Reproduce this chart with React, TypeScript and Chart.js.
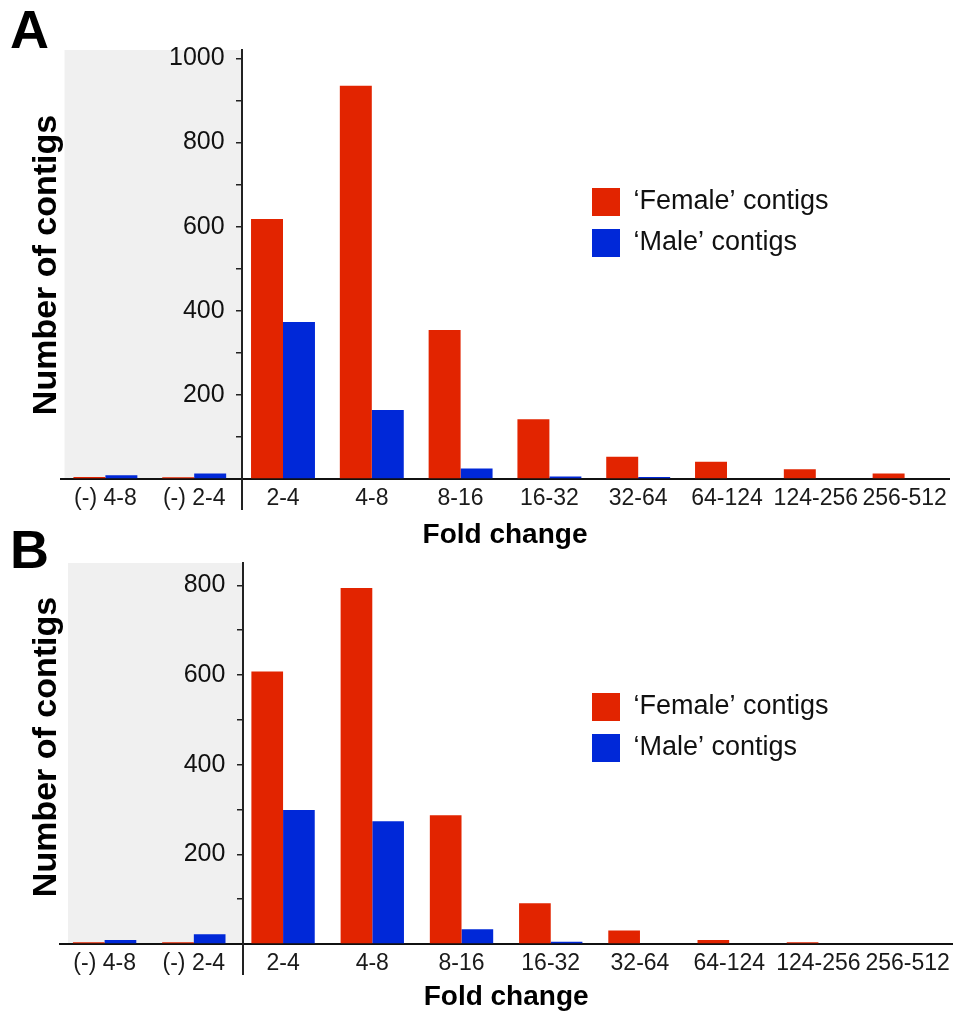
import React, { useEffect, useRef } from 'react';
import { Chart, registerables } from 'chart.js';

Chart.register(...registerables);

// ---------- data ----------
const categories = ['(-) 4-8', '(-) 2-4', '2-4', '4-8', '8-16', '16-32', '32-64', '64-124', '124-256', '256-512'];
const seriesNames = ['\u2018Female\u2019 contigs', '\u2018Male\u2019 contigs'];
const femaleA = [5, 4, 618, 935, 354, 142, 53, 41, 23, 13];
const maleA = [9, 13, 373, 164, 25, 6, 5, 0, 0, 0];
const femaleB = [4, 4, 608, 794, 287, 91, 30, 9, 4, 0];
const maleB = [9, 22, 299, 274, 33, 5, 0, 0, 0, 0];
const yTicksA = [0, 100, 200, 300, 400, 500, 600, 700, 800, 900, 1000];
const yTicksB = [0, 100, 200, 300, 400, 500, 600, 700, 800];
const labeledTicksA = [200, 400, 600, 800, 1000];
const labeledTicksB = [200, 400, 600, 800];
const xTitle = 'Fold change';
const yTitle = 'Number of contigs';

const RED = '#e22400';
const BLUE = '#0028d8';
const SANS = '"Liberation Sans", Arial, Helvetica, sans-serif';

const panelPlugin = {
  id: 'panelDecor',
  beforeDraw(chart: any, _a: any, o: any) {
    const { ctx, chartArea, scales } = chart;
    const ax = scales.x.getPixelForValue(o.axisAt);
    const gx = scales.x.getPixelForValue(o.grayFrom);
    ctx.save();
    ctx.fillStyle = '#f0f0f0';
    ctx.fillRect(gx, chartArea.top, ax - gx, chartArea.bottom - chartArea.top);
    ctx.restore();
  },
  afterLayout(chart: any, _a: any, o: any) {
    const lg = chart.legend;
    if (!lg) return;
    const w = lg.width;
    const h = lg.height;
    lg.left = o.legendX - 13;
    lg.top = o.legendY - 13;
    lg.right = lg.left + w;
    lg.bottom = lg.top + h;
  },
  afterDraw(chart: any, _a: any, o: any) {
    const { ctx, chartArea, scales } = chart;
    const ax = Math.round(scales.x.getPixelForValue(o.axisAt));
    ctx.save();
    ctx.strokeStyle = '#222';
    ctx.lineWidth = 2;
    ctx.beginPath();
    ctx.moveTo(ax, chartArea.bottom);
    ctx.lineTo(ax, chartArea.bottom + o.axisExtend);
    ctx.stroke();

    ctx.fillStyle = '#000';
    ctx.font = 'bold 54px ' + SANS;
    ctx.textAlign = 'left';
    ctx.textBaseline = 'alphabetic';
    ctx.fillText(o.letter, o.letterX, o.letterY);

    ctx.translate(o.yTitleX, o.yTitleY);
    ctx.rotate(-Math.PI / 2);
    ctx.font = 'bold 34px ' + SANS;
    ctx.textAlign = 'center';
    ctx.textBaseline = 'middle';
    ctx.fillStyle = '#000';
    ctx.fillText(yTitle, 0, 0);
    ctx.restore();
  },
};

type PanelCfg = {
  letter: string;
  female: number[];
  male: number[];
  yTicks: number[];
  labeled: number[];
  yMax: number;
  top: number;
  height: number;
  padTop: number;
  padLeft: number;
  padRight: number;
  xAxisHeight: number;
  axisAt: number;
  grayFrom: number;
  legendX: number;
  legendY: number;
  axisExtend: number;
  letterX: number;
  letterY: number;
  yTitleX: number;
  yTitleY: number;
  catPct: number;
};

const panelA: PanelCfg = {
  letter: 'A', female: femaleA, male: maleA, yTicks: yTicksA, labeled: labeledTicksA, yMax: 1020,
  top: 0, height: 552, padTop: 50, padLeft: 61, padRight: 7, xAxisHeight: 73,
  axisAt: 1.54, grayFrom: -0.46, legendX: 592, legendY: 188, axisExtend: 31,
  letterX: 10, letterY: 48, yTitleX: 47, yTitleY: 265, catPct: 0.72,
};

const panelB: PanelCfg = {
  letter: 'B', female: femaleB, male: maleB, yTicks: yTicksB, labeled: labeledTicksB, yMax: 850,
  top: 515, height: 499, padTop: 48, padLeft: 60, padRight: 3, xAxisHeight: 70,
  axisAt: 1.55, grayFrom: -0.41, legendX: 592, legendY: 178, axisExtend: 31,
  letterX: 10, letterY: 53, yTitleX: 47, yTitleY: 232, catPct: 0.71,
};

function Panel({ cfg }: { cfg: PanelCfg }) {
  const ref = useRef<HTMLCanvasElement>(null);
  useEffect(() => {
    const chart = new Chart(ref.current as HTMLCanvasElement, {
      type: 'bar',
      data: {
        labels: categories,
        datasets: [
          { label: seriesNames[0], data: cfg.female, backgroundColor: RED, borderWidth: 0, categoryPercentage: cfg.catPct, barPercentage: 1 },
          { label: seriesNames[1], data: cfg.male, backgroundColor: BLUE, borderWidth: 0, categoryPercentage: cfg.catPct, barPercentage: 1 },
        ],
      },
      plugins: [panelPlugin as any],
      options: {
        animation: false,
        responsive: false,
        devicePixelRatio: 1,
        events: [],
        layout: { padding: { top: cfg.padTop, left: cfg.padLeft, right: cfg.padRight, bottom: 0 } },
        scales: {
          x: {
            type: 'category',
            position: 'bottom',
            grid: { display: false, drawTicks: false },
            border: { display: true, color: '#111', width: 2 },
            ticks: {
              autoSkip: false, maxRotation: 0, minRotation: 0, padding: 6, color: '#1a1a1a',
              font: { family: SANS, size: 23 },
            },
            title: {
              display: true, text: xTitle, color: '#000',
              font: { family: SANS, size: 28, weight: 'bold' },
              padding: { top: 0, bottom: 0 },
            },
            afterFit: (s: any) => { s.height = cfg.xAxisHeight; },
          },
          y: {
            type: 'linear',
            min: 0,
            max: cfg.yMax,
            position: { x: cfg.axisAt } as any,
            afterBuildTicks: (s: any) => { s.ticks = cfg.yTicks.map((v) => ({ value: v })); },
            ticks: {
              autoSkip: false, padding: 11, color: '#111',
              font: { family: SANS, size: 25 },
              callback: (v: any) => (cfg.labeled.includes(Number(v)) ? String(v) + '\u2002\u2009' : ''),
            },
            grid: { drawOnChartArea: false, drawTicks: true, tickLength: 5, color: '#222', lineWidth: 1.5 },
            border: { display: true, color: '#222', width: 2 },
          },
        },
        plugins: {
          tooltip: { enabled: false },
          legend: {
            display: true,
            position: 'chartArea' as any,
            align: 'start',
            labels: {
              boxWidth: 28, boxHeight: 28, padding: 13, color: '#111',
              font: { family: SANS, size: 27 },
            },
          },
          panelDecor: {
            axisAt: cfg.axisAt, grayFrom: cfg.grayFrom, legendX: cfg.legendX, legendY: cfg.legendY,
            axisExtend: cfg.axisExtend, letter: cfg.letter, letterX: cfg.letterX, letterY: cfg.letterY,
            yTitleX: cfg.yTitleX, yTitleY: cfg.yTitleY,
          },
        } as any,
      },
    });
    return () => chart.destroy();
  }, [cfg]);
  return (
    <canvas
      ref={ref}
      width={956}
      height={cfg.height}
      style={{ position: 'absolute', left: 0, top: cfg.top, width: 956, height: cfg.height, display: 'block' }}
    />
  );
}

export default function App() {
  return (
    <div style={{ position: 'absolute', left: 0, top: 0, width: 956, height: 1017, background: '#fff' }}>
      <Panel cfg={panelA} />
      <Panel cfg={panelB} />
    </div>
  );
}
